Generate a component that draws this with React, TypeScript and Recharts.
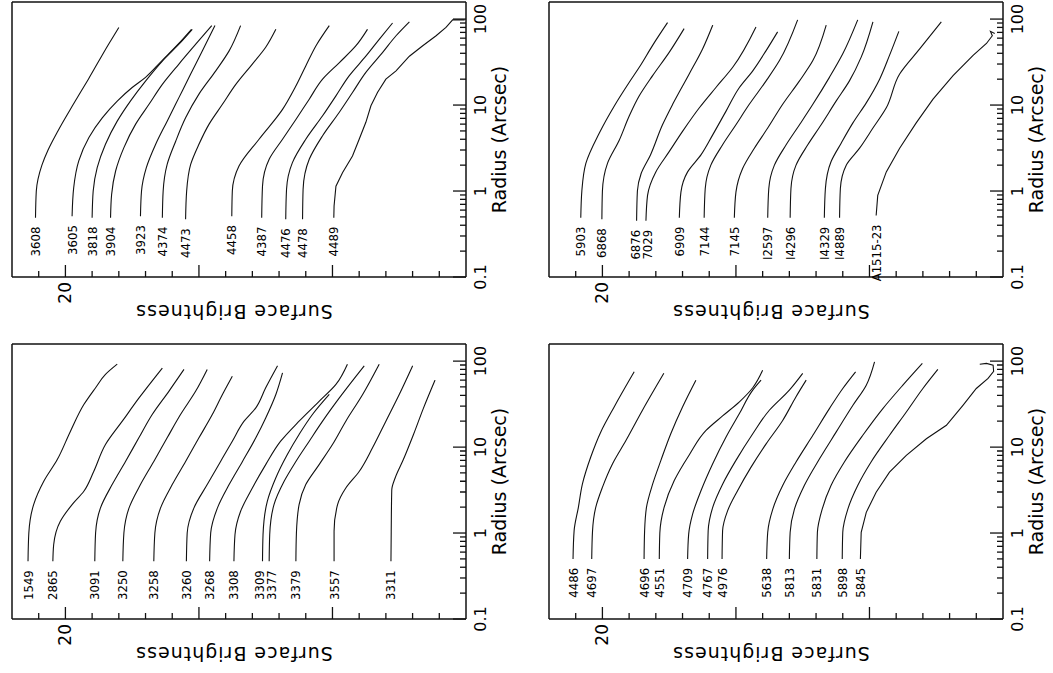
import React from 'react'
import { LineChart, Line, XAxis, YAxis } from 'recharts'

type Profile = [number, number][]

// axis ticks
const radiusTicks = [
  0.1, 0.2, 0.3, 0.4, 0.5, 0.6, 0.7, 0.8, 0.9,
  1, 2, 3, 4, 5, 6, 7, 8, 9,
  10, 20, 30, 40, 50, 60, 70, 80, 90, 100,
]
const radiusLabels = [0.1, 1, 10, 100]
const magTicks = [19, 20, 21, 22, 23, 24, 25, 26, 27, 28, 29, 30, 31, 32, 33, 34]
const magMajor = [20, 25, 30]
const magLabels = [20]

// top-left panel
const tlNames = ['3608', '3605', '3818', '3904', '3923', '4374', '4473', '4458', '4387', '4476', '4478', '4489']
const tlProfiles: Profile[] = [
  [[0.49, 18.88], [1, 18.91], [2, 19.12], [3, 19.35], [5, 19.72], [10, 20.28], [20, 20.86], [50, 21.6], [80, 22.0]],
  [[0.51, 20.25], [1.09, 20.31], [2.24, 20.5], [4.2, 20.88], [7.1, 21.38], [11.2, 21.95], [16, 22.5], [21, 23.0], [32.5, 23.6], [51, 24.22], [76, 24.72]],
  [[0.49, 21.0], [1, 21.04], [1.87, 21.19], [3.5, 21.5], [6.5, 21.94], [11.2, 22.44], [19, 23.0], [32.5, 23.63], [51, 24.25], [76, 24.75]],
  [[0.49, 21.69], [0.91, 21.73], [1.71, 21.88], [3.2, 22.19], [6, 22.63], [10.2, 23.13], [17.4, 23.63], [30, 24.25], [51, 24.88], [84, 25.48]],
  [[0.51, 22.81], [1, 22.85], [1.87, 23.03], [3.5, 23.38], [6.5, 23.81], [12.2, 24.25], [22.9, 24.69], [42.7, 25.13], [84, 25.6]],
  [[0.49, 23.63], [1, 23.66], [2.04, 23.81], [3.8, 24.13], [7.1, 24.5], [13.4, 25.0], [25, 25.63], [42.7, 26.13], [84, 26.56]],
  [[0.47, 24.5], [1, 24.54], [2.04, 24.69], [3.5, 25.0], [6, 25.38], [10.2, 25.88], [17.4, 26.38], [30, 27.0], [47, 27.5], [76, 27.88]],
  [[0.51, 26.23], [1, 26.25], [1.95, 26.5], [4, 27.25], [8.9, 28.13], [16, 28.6], [28.5, 29.0], [50, 29.4], [84, 29.88]],
  [[0.49, 27.35], [1.14, 27.38], [2.34, 27.63], [4, 28.13], [6.8, 28.63], [11.7, 29.13], [20, 29.63], [31, 30.25], [49, 30.88], [76, 31.31]],
  [[0.47, 28.25], [1.05, 28.28], [2.14, 28.5], [4, 29.0], [7.5, 29.63], [12.8, 30.13], [22, 30.63], [37, 31.25], [58, 31.75], [90, 32.25]],
  [[0.47, 28.88], [1.05, 28.9], [2.34, 29.13], [4.4, 29.63], [8.2, 30.25], [14, 30.75], [24, 31.25], [41, 31.88], [64, 32.38], [93, 32.88]],
  [[0.49, 30.05], [0.67, 30.06], [1.14, 30.13], [1.64, 30.38], [2.56, 30.75], [4, 31.0], [6.3, 31.25], [9.8, 31.44], [14.1, 31.69], [20, 32.0], [25, 32.38], [37, 32.88], [49, 33.38], [64, 33.88], [80, 34.25], [98, 34.5], [98, 34.95]],
]

// top-right panel
const trNames = ['5903', '6868', '6876', '7029', '6909', '7144', '7145', 'I2597', 'I4296', 'I4329', 'I4889', 'A1515-23']
const trProfiles: Profile[] = [
  [[0.49, 19.19], [1, 19.23], [2.1, 19.38], [4.7, 19.88], [9.7, 20.44], [18.3, 21.0], [27.5, 21.38], [49.5, 21.88], [91, 22.44]],
  [[0.47, 19.98], [1, 20.0], [2.1, 20.19], [3.9, 20.63], [7.4, 21.0], [12.8, 21.38], [22, 21.88], [41, 22.5], [77.5, 23.06]],
  [[0.45, 21.28], [1, 21.31], [1.6, 21.45], [2.63, 21.8], [5.9, 22.25], [10.2, 22.63], [23, 23.25], [45, 23.75], [85, 24.13]],
  [[0.45, 21.63], [0.89, 21.69], [1.67, 22.0], [2.87, 22.5], [4.94, 23.0], [9.3, 23.63], [16, 24.25], [27.5, 24.88], [81, 25.75]],
  [[0.49, 22.88], [0.97, 22.94], [1.67, 23.19], [2.63, 23.69], [4.5, 24.13], [8.5, 24.63], [16, 25.13], [25, 25.63], [43, 26.13], [71, 26.56]],
  [[0.49, 23.81], [1.07, 23.85], [2, 24.06], [3.45, 24.5], [5.9, 25.0], [10.2, 25.5], [19.1, 26.13], [32.9, 26.63], [98, 27.31]],
  [[0.49, 24.94], [0.97, 25.0], [1.83, 25.25], [3.15, 25.69], [5.4, 26.19], [10.2, 26.75], [19.1, 27.38], [32.9, 27.88], [85, 28.38]],
  [[0.49, 26.19], [1.07, 26.23], [2, 26.44], [3.45, 26.88], [5.9, 27.38], [10.2, 27.88], [21, 28.5], [39.5, 29.0], [98, 29.56]],
  [[0.49, 27.03], [1.07, 27.06], [2, 27.25], [3.45, 27.69], [5.9, 28.19], [11.1, 28.75], [19.1, 29.25], [36.1, 29.69], [93, 30.13]],
  [[0.49, 28.31], [1.07, 28.35], [2.19, 28.56], [3.6, 28.94], [6.2, 29.38], [10.6, 29.88], [20, 30.38], [37.8, 30.75], [72, 31.1]],
  [[0.49, 28.88], [1.07, 28.91], [2, 29.13], [3.15, 29.63], [5.4, 30.13], [9.3, 30.63], [23, 31.13], [45, 31.88], [93, 32.69]],
  [[0.52, 30.25], [0.89, 30.31], [1.67, 30.63], [3.15, 31.13], [6.2, 31.75], [11.7, 32.38], [22, 33.13], [37.8, 33.88], [52, 34.38], [64, 34.6], [72, 34.53], [68, 34.69]],
]

// bottom-left panel
const blNames = ['1549', '2865', '3091', '3250', '3258', '3260', '3268', '3308', '3309', '3377', '3379', '3557', '3311']
const blProfiles: Profile[] = [
  [[0.47, 18.6], [1, 18.63], [2.14, 18.81], [4, 19.19], [7.1, 19.69], [15.3, 20.19], [31.2, 20.69], [49, 21.13], [70, 21.5], [92, 21.94]],
  [[0.47, 19.53], [0.73, 19.56], [1.37, 19.81], [2.14, 20.25], [3.06, 20.69], [5.2, 21.06], [10.7, 21.5], [20, 22.13], [37, 22.75], [83, 23.63]],
  [[0.47, 21.1], [1, 21.13], [1.95, 21.31], [3.66, 21.75], [6.8, 22.25], [12.8, 22.75], [23.9, 23.25], [44.8, 23.88], [80, 24.44]],
  [[0.47, 22.15], [1, 22.19], [1.95, 22.38], [3.66, 22.81], [6.8, 23.31], [12.8, 23.81], [23.9, 24.31], [44.8, 24.88], [80, 25.31]],
  [[0.47, 23.31], [1, 23.35], [1.95, 23.56], [3.66, 24.0], [6.8, 24.5], [12.8, 25.0], [23.9, 25.5], [40.9, 25.88], [66.7, 26.25]],
  [[0.47, 24.53], [1, 24.56], [1.95, 24.81], [3.66, 25.31], [6.8, 25.81], [11.7, 26.25], [20, 26.69], [28.6, 27.13], [49, 27.5], [88, 27.94]],
  [[0.47, 25.4], [1, 25.44], [1.95, 25.69], [3.66, 26.13], [6.8, 26.63], [12.8, 27.13], [21.8, 27.5], [40.9, 27.88], [73, 28.13]],
  [[0.47, 26.31], [0.96, 26.35], [1.79, 26.56], [3.34, 27.0], [6.25, 27.5], [11.7, 28.06], [20, 28.75], [34, 29.5], [53.5, 30.13], [92, 30.56]],
  [[0.47, 27.38], [0.96, 27.4], [2.34, 27.56], [4.4, 27.88], [8.2, 28.31], [14, 28.75], [23.9, 29.25], [40.9, 29.88]],
  [[0.47, 27.63], [0.96, 27.65], [2.14, 27.81], [4, 28.19], [6.8, 28.63], [11.7, 29.13], [20, 29.63], [37, 30.25], [88, 31.19]],
  [[0.47, 28.63], [1, 28.65], [2.14, 28.75], [3.66, 29.0], [6.25, 29.5], [10.7, 30.0], [20, 30.5], [40.9, 31.13], [92, 31.75]],
  [[0.47, 30.06], [1.05, 30.06], [2.14, 30.19], [3.34, 30.5], [5.2, 31.0], [9.8, 31.5], [20, 32.0], [40.9, 32.5], [88, 33.0]],
  [[0.47, 32.19], [1.05, 32.2], [3.16, 32.22], [4.4, 32.35], [7.1, 32.65], [13.9, 33.03], [28, 33.4], [60, 33.84]],
]

// bottom-right panel
const brNames = ['4486', '4697', '4696', '4551', '4709', '4767', '4976', '5638', '5813', '5831', '5898', '5845']
const brProfiles: Profile[] = [
  [[0.5, 18.9], [1.06, 18.94], [1.99, 19.1], [3.7, 19.25], [7.6, 19.56], [15, 19.94], [29.3, 20.44], [75, 21.19]],
  [[0.5, 19.6], [1.06, 19.63], [1.99, 19.75], [3.4, 20.0], [6.4, 20.38], [11.9, 20.88], [26.8, 21.5], [72, 22.3]],
  [[0.5, 21.56], [1.06, 21.58], [1.99, 21.65], [3.7, 21.88], [7, 22.19], [14.3, 22.56], [29.3, 23.0], [60, 23.5]],
  [[0.5, 22.13], [1, 22.15], [1.99, 22.31], [4.08, 22.69], [8.1, 23.25], [15.6, 23.88], [23, 24.5], [33.6, 25.13], [49, 25.63], [78, 26.0]],
  [[0.5, 23.19], [0.97, 23.23], [1.67, 23.38], [3.1, 23.69], [6.4, 24.13], [13.1, 24.63], [24.5, 25.13], [46, 25.63], [60, 25.94]],
  [[0.5, 23.94], [1.06, 23.96], [1.99, 24.13], [3.7, 24.5], [7, 25.0], [14.3, 25.63], [26.8, 26.25], [46, 27.0], [72, 27.5]],
  [[0.5, 24.48], [1.06, 24.5], [1.82, 24.69], [3.1, 25.06], [5.8, 25.56], [10.9, 26.13], [20.4, 26.75], [38.5, 27.25], [60, 27.63]],
  [[0.5, 26.15], [1.02, 26.19], [1.9, 26.38], [3.57, 26.75], [6.7, 27.25], [13.7, 27.88], [28, 28.5], [48, 29.0], [75, 29.48]],
  [[0.5, 27.0], [1.02, 27.03], [1.9, 27.19], [3.57, 27.56], [7.3, 28.13], [14.9, 28.75], [30.6, 29.38], [52.5, 29.88], [98, 30.19]],
  [[0.5, 28.03], [1.02, 28.05], [1.9, 28.23], [3.57, 28.56], [6.7, 29.06], [13.7, 29.75], [28, 30.5], [52.5, 31.25], [94, 31.98]],
  [[0.5, 28.98], [1.02, 29.0], [1.9, 29.19], [3.57, 29.56], [6.7, 30.06], [13.7, 30.75], [25.6, 31.38], [48, 32.0], [80, 32.56]],
  [[0.5, 29.66], [1.02, 29.69], [1.74, 29.88], [2.98, 30.25], [5.1, 30.75], [8, 31.38], [12.5, 32.13], [17.9, 32.88], [30.6, 33.5], [48, 34.0], [62.8, 34.44], [76, 34.65], [89.6, 34.63], [94, 34.38], [92, 34.13]],
]

// curves that turn back on themselves are drawn straight point to point
const hooked = ['4489', 'A1515-23', '5845']

// unrotated panel geometry; each panel is turned a quarter turn counter-clockwise
const PLOT_W = 275
const PLOT_H = 454
const AX_L = 50
const AX_R = 4
const AX_T = 4
const AX_B = 60
const CW = AX_L + PLOT_W + AX_R
const CH = AX_T + PLOT_H + AX_B
const MAG_MIN = 18
const MAG_MAX = 35
const PX_PER_MAG = PLOT_H / (MAG_MAX - MAG_MIN)
const LABEL_GAP = 12 // min spacing between neighbouring name labels, px
const INK = '#111'
const FONT = "'DejaVu Sans', sans-serif"

// push crowded name labels apart, returns pixel offsets per curve
function labelOffsets(profiles: Profile[]): number[] {
  const start = profiles.map((p) => p[0][1] * PX_PER_MAG)
  const pos = [...start]
  const order = pos.map((_, i) => i).sort((a, b) => start[a] - start[b])
  for (let it = 0; it < 60; it++) {
    for (let k = 1; k < order.length; k++) {
      const a = order[k - 1]
      const b = order[k]
      const d = pos[b] - pos[a]
      if (d < LABEL_GAP) {
        const push = (LABEL_GAP - d) / 2
        pos[a] -= push
        pos[b] += push
      }
    }
  }
  return pos.map((v, i) => v - start[i])
}

function RadiusTick(props: any) {
  const { x, y, payload, side } = props
  const v = payload.value
  const major = radiusLabels.includes(v)
  const len = major ? 13 : 6
  const dir = side === 'bottom' ? -1 : 1
  return (
    <g>
      <line x1={x} y1={y} x2={x} y2={y + dir * len} stroke={INK} strokeWidth={1.3} />
      {side === 'bottom' && major && (
        <text x={x} y={y + 14} textAnchor="middle" dominantBaseline="central" fontSize={16} fill="#000" fontFamily={FONT}>
          {v === 0.1 ? '0.1' : String(v)}
        </text>
      )}
    </g>
  )
}

function MagTick(props: any) {
  const { x, y, payload, side } = props
  const v = payload.value
  const len = magMajor.includes(v) ? 12 : 6
  const dir = side === 'left' ? 1 : -1
  return (
    <g>
      <line x1={x} y1={y} x2={x + dir * len} y2={y} stroke={INK} strokeWidth={1.3} />
      {side === 'left' && magLabels.includes(v) && (
        <text x={x - 5} y={y} textAnchor="end" dominantBaseline="central" fontSize={17} fill="#000" fontFamily={FONT}>
          {v}
        </text>
      )}
    </g>
  )
}

function RadiusTitle() {
  return (
    <text x={AX_L + PLOT_W / 2} y={AX_T + PLOT_H + 33} textAnchor="middle" dominantBaseline="central" fontSize={19} fill="#000" fontFamily={FONT}>
      Radius (Arcsec)
    </text>
  )
}

function BrightnessTitle() {
  const cx = 15
  const cy = AX_T + PLOT_H / 2 - 5
  return (
    <text x={cx} y={cy} transform={`rotate(-90 ${cx} ${cy})`} textAnchor="middle" dominantBaseline="central" fontSize={19} letterSpacing={1} fill="#000" fontFamily={FONT}>
      Surface Brightness
    </text>
  )
}

const nameDot = (name: string, dy: number) => (p: any) =>
  p.index === 0 ? (
    <text key={`n-${name}`} x={p.cx - 9} y={p.cy + dy} textAnchor="end" dominantBaseline="central" fontSize={13} fill="#000" fontFamily="'DejaVu Sans Condensed', 'DejaVu Sans', sans-serif">
      {name}
    </text>
  ) : (
    <g key={`d-${name}-${p.index}`} />
  )

const frame = { stroke: INK, strokeWidth: 1.5 }

function Panel({ names, profiles, left, top }: { names: string[]; profiles: Profile[]; left: number; top: number }) {
  const offsets = labelOffsets(profiles)
  return (
    <div style={{ position: 'absolute', left, top, width: CW, height: CH, transform: 'rotate(-90deg)', transformOrigin: '0 0' }}>
      <LineChart width={CW} height={CH} margin={{ top: 0, right: 0, bottom: 0, left: 0 }}>
        <XAxis
          xAxisId="b" type="number" dataKey="r" scale="log" domain={[0.1, 158]}
          ticks={radiusTicks} interval={0} height={AX_B} tickSize={0} tickMargin={0}
          tickLine={false} axisLine={frame}
          tick={(p: any) => <RadiusTick {...p} side="bottom" />}
          label={<RadiusTitle />}
        />
        <XAxis
          xAxisId="t" orientation="top" type="number" dataKey="r" scale="log" domain={[0.1, 158]}
          ticks={radiusTicks} interval={0} height={AX_T} tickSize={0} tickMargin={0}
          tickLine={false} axisLine={frame}
          tick={(p: any) => <RadiusTick {...p} side="top" />}
        />
        <YAxis
          yAxisId="l" type="number" domain={[MAG_MIN, MAG_MAX]} reversed
          ticks={magTicks} interval={0} width={AX_L} tickSize={0} tickMargin={0}
          tickLine={false} axisLine={frame}
          tick={(p: any) => <MagTick {...p} side="left" />}
          label={<BrightnessTitle />}
        />
        <YAxis
          yAxisId="r" orientation="right" type="number" domain={[MAG_MIN, MAG_MAX]} reversed
          ticks={magTicks} interval={0} width={AX_R} tickSize={0} tickMargin={0}
          tickLine={false} axisLine={frame}
          tick={(p: any) => <MagTick {...p} side="right" />}
        />
        {profiles.map((prof, i) => (
          <Line
            key={names[i]}
            xAxisId="b"
            yAxisId="l"
            data={prof.map(([r, m]) => ({ r, m }))}
            dataKey="m"
            type={hooked.includes(names[i]) ? 'linear' : 'monotone'}
            stroke={INK}
            strokeWidth={1.1}
            dot={nameDot(names[i], offsets[i])}
            activeDot={false}
            isAnimationActive={false}
          />
        ))}
      </LineChart>
    </div>
  )
}

export default function App() {
  return (
    <div style={{ position: 'absolute', left: 0, top: 0, width: 1053, height: 673, background: '#fff', overflow: 'hidden', fontFamily: FONT }}>
      <Panel names={tlNames} profiles={tlProfiles} left={8} top={327} />
      <Panel names={trNames} profiles={trProfiles} left={545} top={327} />
      <Panel names={blNames} profiles={blProfiles} left={8} top={669} />
      <Panel names={brNames} profiles={brProfiles} left={545} top={669} />
    </div>
  )
}
